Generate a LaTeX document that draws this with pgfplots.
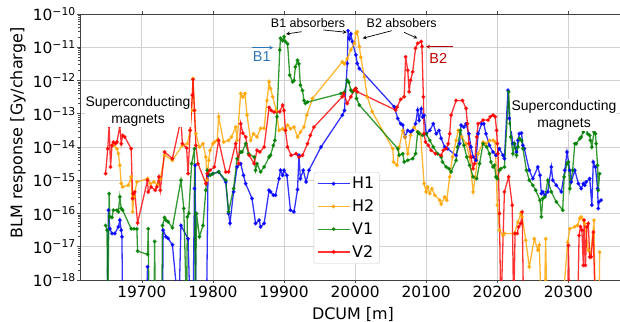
\documentclass[border=0pt]{standalone}
\usepackage{fontspec}
\setmainfont{DejaVu Sans}
\newfontfamily\annfont{Liberation Sans}
\usepackage{pgfplots}
\usepackage{pgfplotstable}
\pgfplotsset{compat=1.18}
\definecolor{cH1}{RGB}{0,0,255}
\definecolor{cH2}{RGB}{255,165,0}
\definecolor{cV1}{RGB}{0,128,0}
\definecolor{cV2}{RGB}{255,0,0}
\definecolor{bone}{RGB}{46,117,182}
\definecolor{btwo}{RGB}{192,0,0}

\pgfplotstableread{
x y
19651 1e-19
19653 1.26e-16
19655 3.47e-17
19658 2.51e-17
19662 2.51e-17
19667 3.98e-17
19669 6.31e-17
19671 3.16e-17
19672 2.0e-17
19673 1e-19
19706 1e-19
19708 2.51e-18
19709 1e-19
19729 1e-19
19730 3.16e-17
19734 2.0e-17
19737 1.78e-17
19743 1.15e-17
19752 1e-19
19755 4.37e-17
19765 1.74e-17
19768 1e-19
19772 1e-19
19774 5.62e-16
19775 2.82e-15
19776 1e-19
19791 1e-19
19793 1.41e-15
19800 1.58e-15
19808 1.78e-15
19818 8.91e-16
19822 1e-16
19824 5.13e-17
19829 4.47e-16
19834 2.51e-15
19839 3.16e-15
19843 1.41e-15
19846 7.94e-16
19855 2.82e-16
19860 5.01e-17
19865 6.31e-17
19867 3.98e-17
19872 5.01e-17
19879 5.01e-16
19881 4.47e-16
19885 3.55e-16
19888 3.55e-16
19893 1.12e-15
19895 2.0e-15
19898 1.41e-15
19900 2.0e-15
19904 1.41e-15
19909 1.26e-16
19914 1.12e-16
19919 5.25e-16
19921 5.62e-15
19923 1.12e-15
19927 2.0e-15
19931 8.91e-16
19935 2.0e-15
19952 1e-14
19982 9.12e-14
19985 1.26e-13
19989 3.24e-12
19990 3.16e-11
19992 1.78e-11
19994 2.51e-11
19996 1.48e-11
20001 5.89e-12
20003 3.24e-12
20006 2.29e-12
20055 1.62e-13
20060 7.24e-14
20064 5.01e-14
20067 4.57e-14
20070 2.0e-14
20074 3.16e-14
20078 2.82e-14
20081 3.16e-14
20085 5.01e-14
20088 1.29e-13
20090 6.31e-14
20093 1.41e-13
20095 7.94e-14
20097 8.91e-14
20100 2.51e-14
20105 3.16e-14
20110 5.01e-14
20114 2.51e-14
20118 3.16e-14
20121 1.82e-14
20126 1e-14
20130 8.91e-15
20142 5.62e-15
20147 1.26e-14
20149 4.57e-14
20153 3.98e-14
20156 5.01e-14
20160 2.51e-14
20163 1e-14
20166 5.01e-15
20170 3.98e-15
20173 2.51e-14
20178 5.01e-14
20181 5.01e-14
20184 2.51e-14
20189 1.12e-14
20194 7.08e-15
20198 5.62e-15
20203 8.91e-15
20208 5.62e-15
20210 4.47e-15
20215 5.13e-13
20217 7.24e-14
20222 1.26e-14
20224 1.26e-14
20227 7.08e-15
20229 1.58e-14
20231 2.51e-14
20234 2.63e-14
20236 1.12e-14
20238 8.91e-15
20245 2.0e-15
20250 1.12e-15
20257 2.51e-15
20260 1.41e-15
20262 3.98e-16
20264 4.47e-16
20267 3.55e-16
20271 4.47e-16
20276 2.51e-15
20278 1e-15
20283 7.08e-16
20290 4.47e-16
20295 2.0e-15
20298 7.08e-15
20302 2.0e-15
20304 8.91e-16
20309 2.0e-15
20314 7.94e-16
20318 5.62e-16
20321 7.94e-16
20323 7.08e-16
20325 8.91e-16
20330 1.12e-15
20333 1.78e-16
20335 3.55e-15
20338 2.51e-15
20341 5.62e-16
20342 1.41e-16
20343 2.24e-16
20346 2.51e-16
}\dataHone

\pgfplotstableread{
x y
19660 1.12e-14
19665 8.91e-15
19667 6.31e-15
19669 2.82e-15
19671 7.94e-16
19673 6.31e-16
19681 7.08e-16
19685 1.26e-15
19687 1.12e-16
19689 3.16e-16
19693 8.91e-16
19708 1.12e-15
19712 7.94e-16
19717 8.91e-16
19722 7.08e-16
19726 1.12e-15
19732 5.62e-15
19743 3.98e-15
19757 1.12e-14
19764 1.26e-14
19768 3.16e-14
19770 1.26e-13
19772 1.15e-12
19774 1.26e-13
19776 2.51e-14
19781 1e-14
19786 1.26e-14
19790 5.01e-15
19792 1e-15
19794 3.98e-15
19796 7.94e-15
19800 1.26e-14
19802 1.41e-14
19806 1.58e-14
19808 8.13e-14
19815 1.41e-14
19822 1.58e-14
19826 2.0e-14
19832 3.98e-14
19834 1.58e-14
19839 4.07e-13
19842 3.16e-13
19845 4.07e-13
19848 9.12e-14
19853 1.58e-14
19857 2.51e-14
19862 2.0e-14
19867 3.63e-14
19872 3.63e-14
19876 2.51e-13
19879 9.12e-13
19881 5.75e-13
19884 3.24e-13
19889 1.26e-13
19893 3.16e-14
19898 3.55e-14
19902 3.16e-14
19905 4.57e-14
19909 3.55e-14
19914 3.98e-14
19919 2.0e-14
19923 2.82e-14
19928 3.98e-14
19932 9.12e-14
19940 2.88e-13
19982 3.63e-12
19985 3.16e-12
19989 4.57e-12
19994 8.32e-12
19999 1.32e-11
20001 2.63e-11
20003 2.95e-11
20006 1.05e-11
20008 5.01e-12
20013 1.29e-12
20017 3.24e-13
20024 1.15e-13
20053 8.91e-15
20054 3.55e-15
20059 2.82e-15
20062 1e-14
20067 3.16e-14
20070 2.0e-14
20074 6.31e-15
20078 2.24e-14
20083 3.98e-14
20088 2.82e-14
20092 2.51e-14
20097 7.94e-16
20100 4.47e-16
20102 6.31e-16
20105 3.98e-16
20108 5.62e-16
20112 3.55e-16
20119 2.51e-16
20121 1.91e-16
20126 3.16e-16
20129 2.51e-16
20133 1.26e-15
20137 5.01e-15
20142 1.58e-14
20145 3.16e-14
20150 2.0e-14
20156 1.26e-14
20161 5.01e-15
20166 4.47e-16
20169 1.26e-15
20173 6.31e-15
20180 1.41e-14
20184 1.26e-14
20189 1.58e-14
20194 1.58e-14
20197 1.41e-14
20200 1.78e-16
20203 3.16e-17
20208 2.19e-17
20210 2.51e-17
20224 2.51e-17
20229 5.5e-17
20233 1e-16
20235 7.94e-17
20240 1.58e-17
20245 2.51e-18
20252 1.74e-17
20257 7.94e-18
20259 1.12e-17
20262 1e-19
20266 1e-19
20268 1.74e-17
20270 1e-19
20291 1e-19
20299 1.38e-17
20302 3.47e-17
20309 3.98e-17
20313 4.47e-17
20316 7.08e-17
20318 7.94e-17
20321 6.31e-17
20323 5.01e-17
20328 7.94e-18
20331 4.9e-18
20336 6.31e-17
20338 1e-19
20343 1e-19
20344 6.92e-18
}\dataHtwo

\pgfplotstableread{
x y
19649 4.37e-17
19651 3.16e-17
19652 1e-19
19654 3.98e-16
19655 7.94e-17
19658 7.59e-17
19660 1.26e-16
19665 1.26e-16
19667 1.12e-16
19669 3.16e-16
19671 1.41e-16
19673 1.26e-16
19685 3.47e-17
19689 3.47e-17
19693 3.47e-17
19694 7.41e-18
19708 5.89e-18
19709 3.47e-17
19710 1e-19
19717 1e-19
19718 1.45e-17
19719 1e-19
19728 1e-19
19729 4.37e-17
19732 7.59e-17
19734 6.31e-17
19737 5.62e-17
19743 3.72e-17
19755 1e-15
19759 1.41e-16
19763 1e-19
19764 7.94e-17
19766 1e-16
19770 3.16e-15
19774 8.91e-15
19775 1e-19
19777 1e-16
19781 2.0e-17
19786 4.37e-17
19790 5.01e-16
19792 2.0e-15
19796 1.41e-15
19800 1.58e-15
19808 1.78e-15
19818 1e-15
19822 1.12e-16
19829 5.62e-16
19834 4.47e-15
19839 7.08e-15
19841 7.08e-15
19846 1.26e-14
19850 6.31e-15
19858 5.01e-15
19860 2.0e-15
19862 3.16e-15
19867 1.78e-15
19872 2.51e-15
19879 5.01e-15
19881 5.62e-15
19885 1.12e-14
19887 1.58e-14
19890 8.13e-14
19894 8.32e-12
19895 1.86e-11
19898 1.58e-11
19900 2.09e-11
19902 1.48e-11
19905 1.26e-11
19908 1.45e-12
19912 9.12e-13
19914 1e-12
19916 2.57e-12
19919 4.07e-12
19921 3.16e-12
19923 7.24e-13
19926 5.01e-13
19928 2.51e-13
19930 2.04e-13
19933 2.24e-13
19980 4.07e-13
19985 4.47e-13
19989 1.02e-12
19991 8.91e-13
19994 5.13e-13
19996 4.57e-13
20001 5.75e-13
20002 2.88e-13
20006 1.82e-13
20060 8.91e-15
20062 5.62e-15
20067 6.31e-15
20069 3.55e-15
20074 3.98e-15
20081 4.47e-15
20085 6.31e-15
20088 2.82e-14
20090 2.51e-14
20095 2.24e-14
20100 2.51e-14
20105 1.58e-14
20110 1e-14
20116 6.31e-15
20121 5.01e-15
20123 3.55e-15
20128 2.51e-15
20132 2.24e-15
20135 1.78e-15
20142 3.98e-15
20144 1e-14
20148 3.16e-14
20153 1.12e-14
20157 5.01e-15
20161 2.82e-15
20166 1.26e-15
20171 1.12e-15
20175 3.16e-15
20180 1.26e-14
20185 1e-14
20189 6.31e-15
20191 3.55e-15
20194 2.51e-15
20196 2.82e-15
20198 1.26e-15
20200 1.12e-15
20203 2.0e-15
20205 2.24e-15
20210 2.51e-15
20216 4.57e-13
20218 5.01e-14
20219 2.0e-14
20222 6.31e-15
20224 1.26e-14
20227 5.62e-15
20229 1e-14
20231 1.82e-14
20234 1.58e-14
20236 8.91e-15
20241 2.0e-15
20245 1e-15
20250 7.08e-16
20254 5.01e-16
20260 2.51e-16
20262 7.94e-17
20264 2.82e-16
20267 3.16e-16
20271 1e-15
20276 4.47e-16
20283 2.24e-16
20292 1.26e-16
20294 1.26e-15
20298 3.16e-15
20300 3.55e-15
20302 5.62e-16
20306 2.0e-15
20309 1.26e-14
20311 1.26e-14
20316 1.78e-14
20318 2.0e-14
20321 2.82e-14
20325 3.63e-14
20327 2.51e-14
20330 2.24e-14
20331 1.58e-14
20333 1e-14
20336 2.82e-14
20338 2.51e-14
20339 1.26e-14
20341 2.82e-15
20342 5.01e-16
20344 1.58e-15
}\dataVone

\pgfplotstableread{
x y
19649 1.58e-15
19652 8.91e-15
19654 4.27e-14
19656 2.51e-15
19658 1.12e-14
19660 1.41e-14
19663 1.26e-14
19665 1.41e-14
19669 4.27e-14
19671 1.26e-14
19673 2.24e-14
19676 2.0e-14
19685 8.91e-15
19687 2.82e-16
19688 3.98e-16
19690 4.47e-16
19694 5.25e-17
19708 1e-15
19709 4.47e-16
19713 6.31e-16
19719 5.01e-16
19721 6.31e-16
19724 1.26e-15
19726 5.01e-16
19732 7.08e-15
19743 4.47e-15
19755 6.76e-14
19757 1.26e-14
19763 9.33e-15
19765 1.58e-15
19768 3.16e-14
19771 3.63e-13
19772 1.07e-12
19774 1.26e-13
19776 1.12e-14
19779 3.16e-15
19790 7.94e-16
19792 1.58e-15
19796 2.0e-15
19802 2.51e-15
19808 1.58e-14
19818 1.78e-15
19822 1.78e-15
19832 1.26e-14
19836 3.16e-15
19839 5.01e-14
19842 2.63e-14
19846 2.0e-14
19851 5.62e-15
19858 3.16e-15
19862 7.94e-15
19866 7.08e-15
19872 1e-14
19879 1.55e-13
19882 1.26e-13
19886 1.12e-13
19894 1.15e-13
19898 1.82e-13
19900 1.26e-13
19902 3.16e-14
19905 1e-14
19910 5.62e-15
19917 6.31e-15
19921 5.01e-15
19926 5.62e-15
19933 1.26e-14
19937 2.24e-14
19942 3.98e-14
19982 3.24e-13
19984 4.07e-13
19989 2.04e-13
19994 3.24e-13
19999 5.13e-13
20001 5.75e-13
20003 4.57e-13
20057 1.29e-13
20059 1.58e-13
20064 2.69e-13
20069 3.24e-13
20071 5.13e-12
20074 2.04e-12
20076 4.57e-13
20078 1.02e-12
20081 1.82e-12
20085 9.33e-12
20088 1.32e-11
20093 1.48e-11
20094 1.05e-11
20096 3.24e-13
20097 2.51e-14
20099 1.41e-14
20103 1.12e-14
20107 7.94e-15
20113 6.31e-15
20121 5.62e-15
20124 7.94e-15
20128 8.91e-15
20131 1.26e-14
20133 2.51e-14
20135 9.12e-14
20142 2.51e-13
20151 2.51e-13
20156 1.45e-13
20158 5.01e-14
20160 1.26e-14
20163 5.01e-15
20166 2.24e-15
20168 3.16e-15
20171 2.0e-14
20173 5.01e-14
20180 6.46e-14
20187 6.46e-14
20190 8.13e-14
20194 9.12e-14
20197 8.13e-14
20199 3.16e-14
20200 1.26e-14
20201 6.31e-15
20203 1e-16
20205 1e-19
20210 4.47e-16
20216 1.26e-15
20221 1.78e-16
20223 1e-19
20225 2.51e-17
20228 2.51e-17
20230 3.98e-17
20233 5.01e-17
20235 1.12e-16
20237 1e-19
20299 1e-19
20300 1.10e-17
20302 1e-19
20313 1e-19
20315 2.19e-17
20317 3.98e-17
20319 3.16e-17
20321 2.75e-18
20322 6.31e-17
20324 2.75e-18
20326 3.98e-17
20328 5.01e-17
20330 4.9e-18
20332 5.01e-18
20335 2.75e-17
20338 1e-19
}\dataVtwo

\begin{document}
\begin{tikzpicture}
\begin{axis}[
  scale only axis,
  width=541bp, height=266bp,
  ymode=log,
  xmin=19613, xmax=20374,
  ymin=1e-18, ymax=1e-10,
  scaled x ticks=false,
  xtick={19700,19800,19900,20000,20100,20200,20300},
  xticklabels={19700,19800,19900,20000,20100,20200,20300},
  ytick={1e-18,1e-17,1e-16,1e-15,1e-14,1e-13,1e-12,1e-11,1e-10},
  yticklabels={10\textsuperscript{−18},10\textsuperscript{−17},10\textsuperscript{−16},10\textsuperscript{−15},10\textsuperscript{−14},10\textsuperscript{−13},10\textsuperscript{−12},10\textsuperscript{−11},10\textsuperscript{−10}},
  tick label style={font=\fontsize{15.5}{16}\selectfont},
  yticklabel style={inner xsep=1bp},
  tick align=outside,
  major tick length=3bp, minor tick length=2bp,
  tick style={black!70, line width=0.6bp},
  axis line style={black!75, line width=0.8bp},
  grid=major,
  major grid style={black!18, line width=0.8bp},
  legend style={at={(0.432,0.406)}, anchor=north west, draw=black!20, rounded corners=2bp, fill=white, font=\fontsize{16}{16}\selectfont, inner xsep=3bp, inner ysep=3bp, row sep=5.5bp},
  legend cell align=left,
  legend image code/.code={\draw[mark repeat=2,mark phase=2] plot coordinates {(0bp,0bp) (16bp,0bp) (32bp,0bp)};},
  every axis plot/.append style={line width=1.3bp, mark=*, mark size=1.2bp, opacity=0.8},
]
\addplot[cH1, mark options={fill=cH1, draw=cH1}] table {\dataHone};
\addlegendentry{H1}
\addplot[cH2, mark options={fill=cH2, draw=cH2}] table {\dataHtwo};
\addlegendentry{H2}
\addplot[cV1, mark options={fill=cV1, draw=cV1}] table {\dataVone};
\addlegendentry{V1}
\addplot[cV2, mark options={fill=cV2, draw=cV2}] table {\dataVtwo};
\addlegendentry{V2}
\end{axis}
% axis labels (origin = lower-left corner of the axis box)
\node[font=\fontsize{16}{16}\selectfont] at (273bp,-34bp) {DCUM [m]};
\node[font=\fontsize{16}{16}\selectfont, rotate=90] at (-62bp,147bp) {BLM response [Gy/charge]};
% annotations
\node[font=\annfont\fontsize{14}{17}\selectfont, align=center, fill=white, inner sep=1bp] at (58bp,168.5bp) {Superconducting\\magnets};
\node[font=\annfont\fontsize{14}{17}\selectfont, align=center, fill=white, inner sep=1bp] at (484bp,165bp) {Superconducting\\magnets};
\node[font=\annfont\fontsize{12.5}{14}\selectfont, fill=white, inner sep=1bp] at (228bp,257bp) {B1 absorbers};
\node[font=\annfont\fontsize{12.5}{14}\selectfont, fill=white, inner sep=1bp] at (321.7bp,257bp) {B2 absobers};
\draw[-stealth, line width=0.7bp] (221.7bp,248.3bp) -- (206bp,246bp);
\draw[-stealth, line width=0.7bp] (243.3bp,250bp) -- (266.7bp,247.7bp);
\draw[-stealth, line width=0.7bp] (311.7bp,249.3bp) -- (282.7bp,241.7bp);
\draw[-stealth, line width=0.7bp] (324bp,247.7bp) -- (337.3bp,241.7bp);
\node[font=\annfont\fontsize{14.5}{16}\selectfont, text=bone] at (181.7bp,223.3bp) {B1};
\draw[-stealth, bone, line width=0.8bp] (171.7bp,232.3bp) -- (193.3bp,232.3bp);
\node[font=\annfont\fontsize{14.5}{16}\selectfont, text=btwo] at (358.3bp,221.7bp) {B2};
\draw[-stealth, btwo, line width=0.8bp] (373.3bp,233.3bp) -- (346bp,233.3bp);
\pgfresetboundingbox
\path[use as bounding box] (-80bp,-42bp) rectangle (540bp,280bp);
\end{tikzpicture}
\end{document}
